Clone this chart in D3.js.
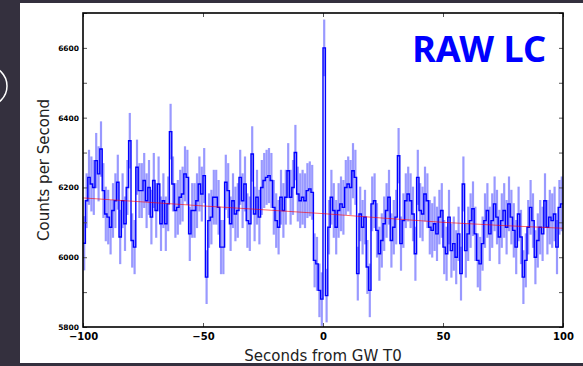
<!DOCTYPE html>
<html lang="en">
<head>
    <meta charset="UTF-8">
    <title>RAW LC</title>
    <script src="https://cdnjs.cloudflare.com/ajax/libs/d3/7.8.5/d3.min.js"></script>
    <style>
        body {
            margin: 0;
            background: #34303e;
        }
        svg {
            display: block;
        }
        .tick line {
            stroke: #555;
        }
        .y-axis text {
            font-family: "DejaVu Sans", sans-serif;
            font-weight: bold;
            font-size: 7.5px;
            fill: #000;
        }
        .x-axis text {
            font-family: "DejaVu Sans", sans-serif;
            font-weight: bold;
            font-size: 10px;
            fill: #000;
        }
        .axis-label {
            font-family: "DejaVu Sans", sans-serif;
            font-size: 15px;
            fill: #222;
        }
    </style>
</head>
<body>
    <div id="wrapper"></div>
    <script>
        // 1 s bins, first bin starts at -100 s
        const binStart = -100
        const binWidth = 1
        const counts = [
            // -100 .. -51
            6040, 6162, 6229, 6210, 6200, 6277, 6239, 6310, 6191, 6124,
            6115, 6086, 6134, 6162, 6215, 6058, 6162, 6096, 6200, 6334,
            6048, 6029, 6258, 6191, 6191, 6220, 6162, 6200, 6115, 6220,
            6134, 6210, 6096, 6162, 6096, 6153, 6360, 6210, 6134, 6143,
            6172, 6181, 6239, 6229, 6067, 6134, 6134, 6162, 6210, 6181,
            // -50 .. -1
            6234, 5943, 6105, 6115, 6172, 6172, 6143, 6029, 6029, 6215,
            6191, 6096, 6162, 6124, 6134, 6229, 6162, 6210, 6105, 6096,
            6296, 6124, 6172, 6115, 6200, 6220, 6229, 6234, 6220, 6143,
            6105, 6086, 6172, 6134, 6172, 6248, 6172, 6200, 6300, 6181,
            6162, 6172, 6162, 6191, 6196, 6186, 5991, 5981, 5905, 5880,
            // 0 .. 49
            6600, 5890, 6086, 6172, 6134, 6086, 6134, 6153, 6143, 6200,
            6210, 6200, 6248, 6229, 5953, 6124, 6086, 6115, 5972, 5905,
            6153, 6162, 6077, 6010, 6048, 6096, 6134, 6172, 6048, 6086,
            6115, 6291, 6039, 6105, 6162, 6181, 6162, 6124, 6010, 6229,
            6134, 6124, 6181, 6162, 6086, 6077, 6096, 6067, 6115, 6134,
            // 50 .. 99
            6029, 6010, 6115, 6019, 6039, 6000, 6067, 5953, 6210, 6019,
            6067, 6105, 6139, 6067, 5991, 5981, 6039, 6105, 6134, 6067,
            6105, 6153, 6115, 6058, 6105, 6134, 6086, 6153, 6115, 6077,
            6029, 6124, 6058, 5943, 5991, 6086, 6143, 6105, 6000, 6048,
            6086, 6067, 6162, 6086, 6115, 6105, 6124, 6029, 6143, 6153
        ]
        // background fit (red)
        const bgTimes = [-100, -50, 0, 50, 100]
        const bgRates = [6170, 6147, 6125, 6100, 6083]

        const xTicks = [-100, -50, 0, 50, 100]
        const yTicks = [5800, 5900, 6000, 6100, 6200, 6300, 6400, 6500, 6600, 6700]
        const yLabelTicks = [5800, 6000, 6200, 6400, 6600]

        const width = 583
        const height = 366
        const margin = { top: 13, right: 20, bottom: 39, left: 83 }
        const boundedWidth = width - margin.left - margin.right
        const boundedHeight = height - margin.top - margin.bottom

        const svg = d3.select('#wrapper')
            .append('svg')
                .attr('width', width)
                .attr('height', height)

        // white panel on dark slide
        svg.append('rect')
            .attr('x', 20)
            .attr('y', 3)
            .attr('width', width - 20)
            .attr('height', 360)
            .attr('fill', '#fff')

        // slide decoration at the left edge
        svg.append('circle')
            .attr('cx', -13)
            .attr('cy', 86)
            .attr('r', 20)
            .attr('fill', 'none')
            .attr('stroke', '#fff')
            .attr('stroke-width', 1.5)

        const bounds = svg.append('g')
            .attr('transform', `translate(${margin.left},${margin.top})`)

        const xScale = d3.scaleLinear()
            .domain([-100, 100])
            .range([0, boundedWidth])

        const yScale = d3.scaleLinear()
            .domain([5800, 6700])
            .range([boundedHeight, 0])

        bounds.append('clipPath')
            .attr('id', 'clip')
            .append('rect')
                .attr('width', boundedWidth)
                .attr('height', boundedHeight)

        const plot = bounds.append('g')
            .attr('clip-path', 'url(#clip)')

        const bins = counts.map((c, i) => ({
            t0: binStart + i * binWidth,
            tc: binStart + (i + 0.5) * binWidth,
            rate: c,
            err: Math.sqrt(c * binWidth) / binWidth
        }))

        // error bars
        plot.append('g')
            .selectAll('line')
            .data(bins)
            .join('line')
                .attr('x1', d => xScale(d.tc))
                .attr('x2', d => xScale(d.tc))
                .attr('y1', d => yScale(d.rate - d.err))
                .attr('y2', d => yScale(d.rate + d.err))
                .attr('stroke', 'rgba(0,0,255,0.4)')
                .attr('stroke-width', 2.2)

        // step line
        const stepPoints = bins.map(d => [d.t0, d.rate])
        stepPoints.push([binStart + counts.length * binWidth, counts[counts.length - 1]])
        const stepLine = d3.line()
            .x(d => xScale(d[0]))
            .y(d => yScale(d[1]))
            .curve(d3.curveStepAfter)

        plot.append('path')
            .datum(stepPoints)
            .attr('d', stepLine)
            .attr('fill', 'none')
            .attr('stroke', '#0000ff')
            .attr('stroke-width', 1.4)

        // background line
        const bgLine = d3.line()
            .x((d, i) => xScale(bgTimes[i]))
            .y(d => yScale(d))
            .curve(d3.curveMonotoneX)

        plot.append('path')
            .datum(bgRates)
            .attr('d', bgLine)
            .attr('fill', 'none')
            .attr('stroke', 'rgba(255,0,0,0.6)')
            .attr('stroke-width', 1)

        // axes, ticks inside like matplotlib classic
        const yFormat = d => yLabelTicks.includes(d) ? d : ''
        bounds.append('g')
            .attr('class', 'y-axis')
            .call(d3.axisLeft(yScale).tickValues(yTicks).tickSize(-4).tickPadding(4).tickFormat(yFormat))
            .call(g => g.select('.domain').remove())

        bounds.append('g')
            .attr('class', 'y-axis')
            .attr('transform', `translate(${boundedWidth},0)`)
            .call(d3.axisRight(yScale).tickValues(yTicks).tickSize(-4).tickFormat(''))
            .call(g => g.select('.domain').remove())

        bounds.append('g')
            .attr('class', 'x-axis')
            .attr('transform', `translate(0,${boundedHeight})`)
            .call(d3.axisBottom(xScale).tickValues(xTicks).tickSize(-4).tickPadding(6).tickFormat(d3.format('d')))
            .call(g => g.select('.domain').remove())

        bounds.append('g')
            .attr('class', 'x-axis')
            .call(d3.axisTop(xScale).tickValues(xTicks).tickSize(-4).tickFormat(''))
            .call(g => g.select('.domain').remove())

        // frame
        bounds.append('rect')
            .attr('width', boundedWidth)
            .attr('height', boundedHeight)
            .attr('fill', 'none')
            .attr('stroke', '#000')
            .attr('stroke-width', 1.6)

        bounds.append('text')
            .attr('class', 'axis-label')
            .attr('x', boundedWidth / 2)
            .attr('y', boundedHeight + 34)
            .attr('text-anchor', 'middle')
            .text('Seconds from GW T0')

        bounds.append('text')
            .attr('class', 'axis-label')
            .attr('transform', `translate(-34,${157}) rotate(-90)`)
            .attr('text-anchor', 'middle')
            .text('Counts per Second')

        svg.append('text')
            .attr('x', 546)
            .attr('y', 62)
            .attr('text-anchor', 'end')
            .attr('fill', '#0000ff')
            .style('font-family', '"Noto Sans", sans-serif')
            .style('font-weight', 'bold')
            .style('font-size', '36px')
            .text('RAW LC')
    </script>
</body>
</html>
